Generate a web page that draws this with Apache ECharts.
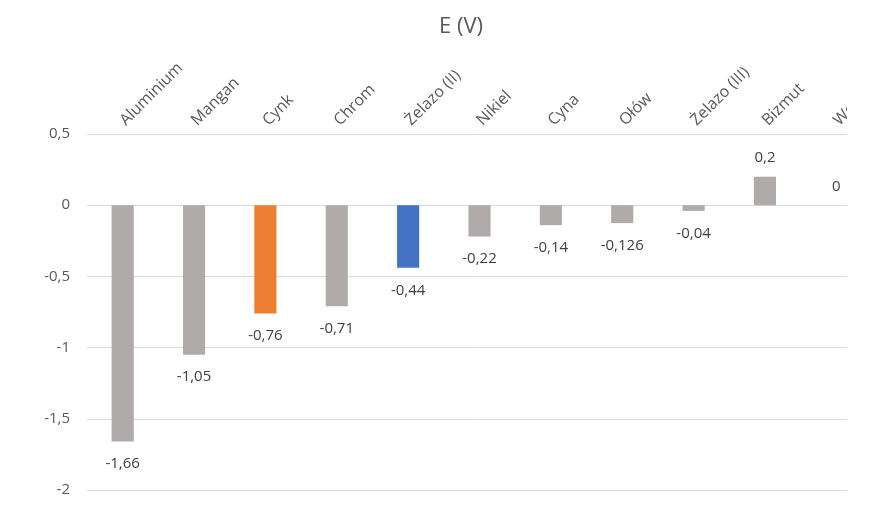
<!DOCTYPE html>
<html>
<head>
<meta charset="utf-8">
<script src="https://cdn.jsdelivr.net/npm/echarts@6/dist/echarts.min.js"></script>
<style>html,body{margin:0;padding:0;background:#fff}#wrap{width:847px;height:514px;overflow:hidden}#c{width:872px;height:514px}</style>
</head>
<body>
<div id="wrap"><div id="c"></div></div>
<script>
const categories = ['Aluminium', 'Mangan', 'Cynk', 'Chrom', 'Żelazo (II)', 'Nikiel', 'Cyna', 'Ołów', 'Żelazo (III)', 'Bizmut', 'Wodór'];
const potentials = [-1.66, -1.05, -0.76, -0.71, -0.44, -0.22, -0.14, -0.126, -0.04, 0.2, 0];
const yTicks = { min: -2, max: 0.5, interval: 0.5 };

const highlight = { 'Cynk': '#ED7D31', 'Żelazo (II)': '#4472C4' };
const baseColor = '#AEABAA';
const FONT = 'Open Sans';
const comma = v => String(v).replace('.', ',');

const chart = echarts.init(document.getElementById('c'));
chart.setOption({
  animation: false,
  backgroundColor: '#fff',
  title: {
    text: 'E (V)', left: 434, top: 11,
    textStyle: { fontFamily: FONT, fontSize: 22, fontWeight: 'normal', color: '#595959' }
  },
  grid: { left: 87, right: 0, top: 134, bottom: 24, containLabel: false, outerBoundsMode: 'none' },
  xAxis: {
    type: 'category', data: categories, position: 'top',
    axisLine: { show: false, onZero: false }, axisTick: { show: false },
    axisLabel: { rotate: -45, margin: 11, interval: 0, fontFamily: FONT, fontSize: 16, color: '#595959' }
  },
  yAxis: {
    type: 'value', min: yTicks.min, max: yTicks.max, interval: yTicks.interval,
    axisLine: { show: false }, axisTick: { show: false },
    splitLine: { lineStyle: { color: '#D9D9D9', width: 1 } },
    axisLabel: { margin: 17, fontFamily: FONT, fontSize: 15, color: '#595959', formatter: comma }
  },
  series: [{
    type: 'bar', barWidth: '31%',
    data: categories.map((c, i) => ({
      value: potentials[i],
      itemStyle: { color: highlight[c] || baseColor },
      label: potentials[i] < 0 ? { position: 'bottom', distance: 15 } : { position: 'top', distance: 11 }
    })),
    label: {
      show: true, fontFamily: FONT, fontSize: 15, color: '#404040',
      formatter: p => comma(p.value)
    }
  }]
});
</script>
</body>
</html>
